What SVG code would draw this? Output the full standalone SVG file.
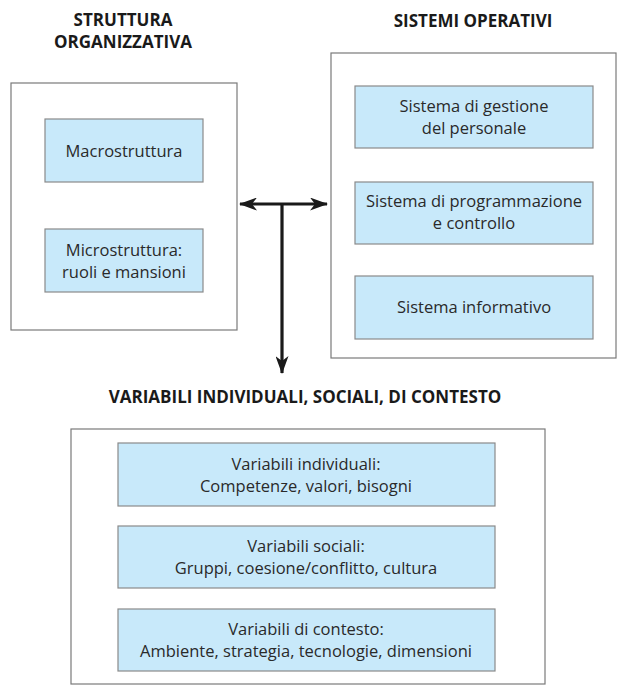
<svg xmlns="http://www.w3.org/2000/svg" width="627" height="699" viewBox="0 0 627 699">
<style>
.outer{fill:#fff;stroke:#7a7a7a;stroke-width:1.2}
.inner{fill:#c8e9fa;stroke:#8a8a8a;stroke-width:1.2}
.t{font-family:"Open Sans","Noto Sans",sans-serif;font-size:16.5px;fill:#2a2a2a;text-anchor:middle}
.h{font-family:"Open Sans","Noto Sans",sans-serif;font-size:17px;font-weight:bold;fill:#1a1a1a;text-anchor:middle}
.c{stroke:#1a1a1a;stroke-width:3.2;fill:none}
</style>
<defs>
<marker id="ah" viewBox="0 0 18 13" refX="17" refY="6.5" markerWidth="18" markerHeight="13" markerUnits="userSpaceOnUse" orient="auto-start-reverse">
<path d="M0,0 L18,6.5 L0,13 L5,6.5 Z" fill="#1a1a1a"/>
</marker>
</defs>
<rect width="627" height="699" fill="#fff"/>
<g id="struttura">
<text class="h" x="123" y="26">STRUTTURA</text>
<text class="h" x="123" y="48">ORGANIZZATIVA</text>
<rect class="outer" x="11" y="83" width="226" height="247"/>
</g>
<g id="macrostruttura">
<rect class="inner" x="45" y="119" width="158" height="63"/>
<text class="t" x="124" y="157">Macrostruttura</text>
</g>
<g id="microstruttura">
<rect class="inner" x="45" y="229" width="158" height="63"/>
<text class="t" x="124" y="256">Microstruttura:</text>
<text class="t" x="124" y="278">ruoli e mansioni</text>
</g>
<g id="sistemi">
<text class="h" x="473" y="27">SISTEMI OPERATIVI</text>
<rect class="outer" x="331" y="53" width="285" height="305"/>
</g>
<g id="gestione">
<rect class="inner" x="355" y="86" width="238" height="62"/>
<text class="t" x="474" y="112">Sistema di gestione</text>
<text class="t" x="474" y="134">del personale</text>
</g>
<g id="programmazione">
<rect class="inner" x="355" y="182" width="238" height="62"/>
<text class="t" x="474" y="207">Sistema di programmazione</text>
<text class="t" x="474" y="229">e controllo</text>
</g>
<g id="informativo">
<rect class="inner" x="355" y="276" width="238" height="63"/>
<text class="t" x="474" y="313">Sistema informativo</text>
</g>
<g id="variabili">
<text class="h" x="305" y="403">VARIABILI INDIVIDUALI, SOCIALI, DI CONTESTO</text>
<rect class="outer" x="71" y="429" width="474" height="255"/>
</g>
<g id="individuali">
<rect class="inner" x="118" y="443" width="377" height="63"/>
<text class="t" x="306" y="470">Variabili individuali:</text>
<text class="t" x="306" y="492">Competenze, valori, bisogni</text>
</g>
<g id="sociali">
<rect class="inner" x="118" y="526" width="377" height="62"/>
<text class="t" x="306" y="552">Variabili sociali:</text>
<text class="t" x="306" y="574">Gruppi, coesione/conflitto, cultura</text>
</g>
<g id="contesto">
<rect class="inner" x="118" y="609" width="377" height="62"/>
<text class="t" x="306" y="635">Variabili di contesto:</text>
<text class="t" x="306" y="657">Ambiente, strategia, tecnologie, dimensioni</text>
</g>
<g id="connectors">
<line class="c" x1="240" y1="204" x2="327" y2="204" marker-start="url(#ah)" marker-end="url(#ah)"/>
<line class="c" x1="282" y1="204" x2="282" y2="373" marker-end="url(#ah)"/>
</g>
</svg>
